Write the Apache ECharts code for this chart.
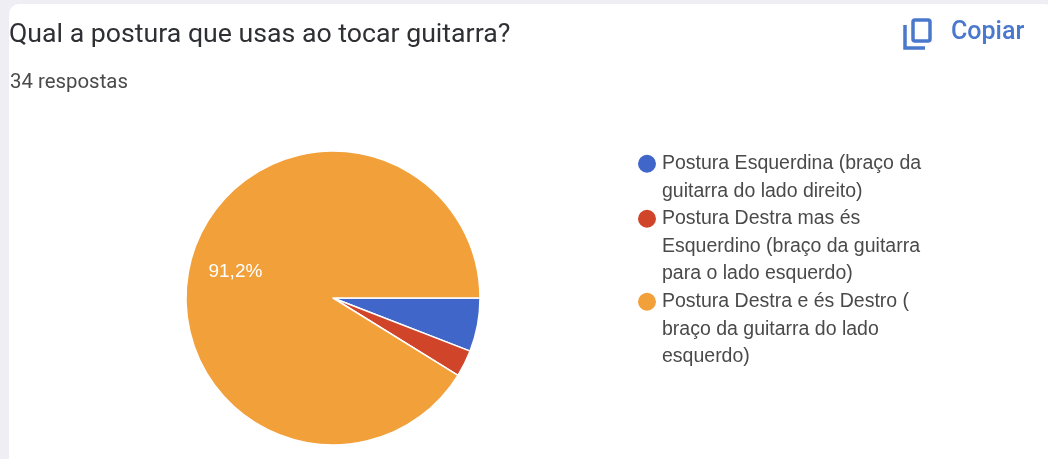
<!DOCTYPE html>
<html>
<head>
<meta charset="utf-8">
<style>
html, body { margin: 0; padding: 0; background: #fff; }
#container { width: 1048px; height: 459px; }
</style>
<script src="https://cdn.jsdelivr.net/npm/echarts@6/dist/echarts.min.js"></script>
</head>
<body>
<div id="container"></div>
<script type="text/javascript">
var titleText = 'Qual a postura que usas ao tocar guitarra?';
var subText = '34 respostas';
var copyText = 'Copiar';
var categories = [
    'Postura Esquerdina (braço da\nguitarra do lado direito)',
    'Postura Destra mas és\nEsquerdino (braço da guitarra\npara o lado esquerdo)',
    'Postura Destra e és Destro (\nbraço da guitarra do lado\nesquerdo)'
];
var answers = [2, 1, 31];
var colors = ['#3f66c8', '#d0452a', '#f2a03a'];
var legendTops = [149, 204, 287];
var lineH = 27.5;

var myChart = echarts.init(document.getElementById('container'));

// one legend per entry. The icon path is as tall as the text block, with the
// dot at the top, so the dot sits on the first line
var legends = categories.map(function (name, i) {
    var h = name.split('\n').length * lineH;
    var cy = lineH / 2;
    return {
        data: [name],
        left: 636,
        top: legendTops[i],
        padding: 0,
        orient: 'vertical',
        icon: 'path://M0 ' + cy + 'A10 10 0 1 1 20 ' + cy + 'A10 10 0 1 1 0 ' + cy + 'Z'
            + 'M0 0L0.01 0ZM20 ' + h + 'L19.99 ' + h + 'Z',
        itemWidth: 20,
        itemHeight: h,
        itemGap: 0,
        selectedMode: false,
        textStyle: {
            fontFamily: 'Liberation Sans',
            fontSize: 19.5,
            lineHeight: lineH,
            color: '#4a4a4a'
        }
    };
});

var option = {
    animation: false,
    title: [
        { text: titleText, left: 9, top: 22, padding: 0, textStyle: { fontFamily: 'Roboto', fontSize: 26.7, fontWeight: 'normal', color: '#2f3033' } },
        { text: subText, left: 10, top: 73, padding: 0, textStyle: { fontFamily: 'Roboto', fontSize: 20.4, fontWeight: 'normal', color: '#4a4a4c' } },
        { text: copyText, left: 951, top: 20, padding: 0, textStyle: { fontFamily: 'Roboto', fontSize: 25, fontWeight: 500, color: '#4a78cc' } }
    ],
    legend: legends,
    graphic: [
        // card edge behind everything
        { type: 'rect', z: -10, silent: true, shape: { x: 0, y: 0, width: 1048, height: 459 }, style: { fill: '#eeeef4' } },
        { type: 'rect', z: -9, silent: true, shape: { x: 9, y: 4, width: 1045, height: 465, r: 10 }, style: { fill: '#ffffff' } },
        // copy icon
        { type: 'rect', z: 5, silent: true, shape: { x: 913, y: 20, width: 17, height: 21, r: 2 }, style: { fill: 'none', stroke: '#4a78cc', lineWidth: 3.5 } },
        { type: 'polyline', z: 5, silent: true, shape: { points: [[905, 25], [905, 48], [925, 48]] }, style: { fill: 'none', stroke: '#4a78cc', lineWidth: 3.5 } }
    ],
    series: [
        {
            type: 'pie',
            center: [333, 298],
            radius: 147,
            startAngle: 0,
            clockwise: true,
            silent: true,
            itemStyle: { borderColor: '#ffffff', borderWidth: 1.5 },
            label: { show: false },
            labelLine: { show: false },
            data: categories.map(function (name, i) {
                return {
                    name: name,
                    value: answers[i],
                    itemStyle: { color: colors[i] },
                    label: {
                        show: i === 2,
                        position: 'inside',
                        fontFamily: 'Liberation Sans',
                        fontSize: 19,
                        color: '#ffffff',
                        formatter: function (p) { return p.percent.toFixed(1).replace('.', ',') + '%'; }
                    }
                };
            }),
            labelLayout: { dx: -24, dy: -5 }
        }
    ]
};

myChart.setOption(option);
</script>
</body>
</html>
